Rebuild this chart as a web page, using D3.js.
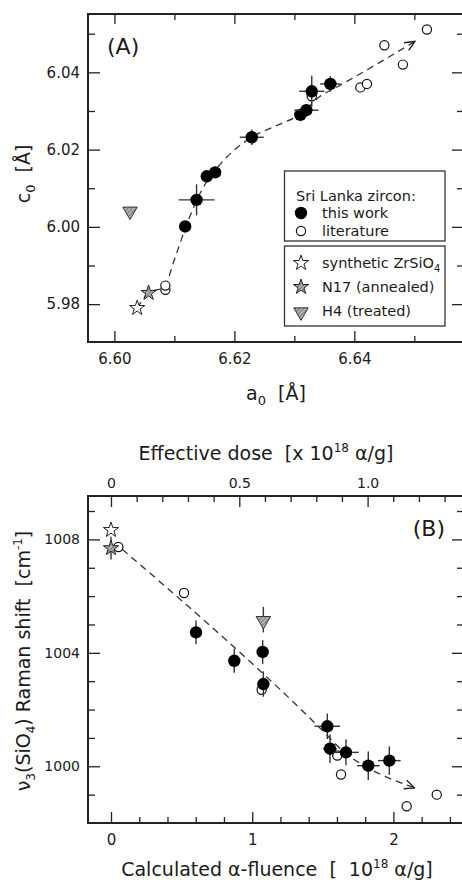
<!DOCTYPE html>
<html>
<head>
<meta charset="utf-8">
<script src="https://cdn.jsdelivr.net/npm/d3@7"></script>
<style>
body{margin:0;background:#fff}
svg{display:block}
text{font-family:"DejaVu Sans",Verdana,sans-serif;fill:#1a1a1a;white-space:pre}
</style>
</head>
<body>
<div id="chart"></div>
<script>
// ---- panel A : lattice parameters a0 / c0 ----
// [a0, c0, err a0, err c0]
const thisWorkA = [
  [6.6118,6.0001,0.0006,0.0013],[6.6137,6.0070,0.0030,0.0040],[6.6154,6.0131,0.0005,0.0010],
  [6.6168,6.0141,0.0008,0.0010],[6.6229,6.0232,0.0020,0.0020],[6.6310,6.0290,0.0010,0.0010],
  [6.6320,6.0302,0.0020,0.0015],[6.6329,6.0351,0.0021,0.0040],[6.6360,6.0370,0.0017,0.0020]
]
const literatureA = [
  [6.6521,6.0511],[6.6450,6.0470],[6.6481,6.0420],[6.6410,6.0361],[6.6421,6.0370],
  [6.6329,6.0338],[6.6085,5.9837],[6.6085,5.9848]
]
const syntheticA = [6.6038,5.9790]
const n17A = [6.6057,5.9829]
const h4A = [6.6026,6.0043]
const trendA = [
  [6.6038,5.9790],[6.6057,5.9829],[6.6083,5.9845],[6.6100,5.9915],[6.6118,5.9995],[6.6137,6.0068],
  [6.6155,6.0120],[6.6175,6.0160],[6.6200,6.0199],[6.6229,6.0232],[6.6270,6.0262],[6.6310,6.0292],
  [6.6343,6.0338],[6.6371,6.0362],[6.6501,6.0480]
]
const xTicksA = [6.60,6.62,6.64], xMinorA = [6.61,6.63,6.65]
const yTicksA = [5.98,6.00,6.02,6.04], yMinorA = [5.99,6.01,6.03,6.05]

// ---- panel B : Raman shift vs alpha-fluence ----
// [fluence, shift, err fluence, err shift]
const thisWorkB = [
  [0.602,1004.72,0.02,0.42],[0.873,1003.72,0.02,0.42],[1.074,1004.03,0.02,0.42],
  [1.079,1002.90,0.03,0.45],[1.532,1001.41,0.09,0.45],[1.551,1000.62,0.05,0.50],
  [1.664,1000.49,0.09,0.45],[1.822,1000.02,0.08,0.50],[1.971,1000.20,0.08,0.50]
]
const literatureB = [
  [0.052,1007.73],[0.517,1006.11],[1.067,1002.70],[1.603,1000.38],[1.629,999.71],[2.094,998.59],[2.307,999.00]
]
const syntheticB = [0,1008.33]
const n17B = [0,1007.69,0,0.40]
const h4B = [1.079,1005.17,0,0.45]
const trendB = [[0.08,1007.65],[1.50,1001.25],[1.65,1000.50],[1.80,1000.00],[2.15,999.24]]
const xTicksB = [0,1,2], xMinorB = [0.2,0.4,0.6,0.8,1.2,1.4,1.6,1.8,2.2,2.4]
const doseTicks = [0,0.5,1.0], doseLabels = ["0","0.5","1.0"], doseMinor = [0.1,0.2,0.3,0.4,0.6,0.7,0.8,0.9,1.1,1.2,1.3]
const yTicksB = [1000,1004,1008], yMinorB = [999,1001,1002,1003,1005,1006,1007,1009]

const legendTop = [["circle","this work"],["open","literature"]]
const legendBottom = [["star","synthetic ZrSiO"],["gstar","N17 (annealed)"],["tri","H4 (treated)"]]

const svg = d3.select("#chart").append("svg").attr("width",462).attr("height",883)
addDefs(svg)
drawPanelA()
drawPanelB()

function addDefs(svg){
  const defs = svg.append("defs")
  const p = defs.append("pattern").attr("id","hatch").attr("width",3).attr("height",3)
    .attr("patternUnits","userSpaceOnUse").attr("patternTransform","rotate(45)")
  p.append("rect").attr("width",3).attr("height",3).attr("fill","#b5b5b5")
  p.append("line").attr("x1",0).attr("y1",0).attr("x2",0).attr("y2",3).attr("stroke","#555").attr("stroke-width",1.4)
  defs.append("marker").attr("id","arrow").attr("viewBox","0 0 12 12").attr("refX",11).attr("refY",6)
    .attr("markerWidth",12).attr("markerHeight",12).attr("markerUnits","userSpaceOnUse").attr("orient","auto")
    .append("path").attr("d","M1,1.5 L11,6 L1,10.5").attr("fill","none").attr("stroke","#222").attr("stroke-width",1.4)
}

function frame(g,box){
  g.append("rect").attr("x",box.left).attr("y",box.top).attr("width",box.right-box.left).attr("height",box.bottom-box.top)
   .attr("fill","none").attr("stroke","#222").attr("stroke-width",2)
}

// inward ticks on one side; labels only when fmt given
function ticks(g,axis,pos,vals,len,pad,fmt,font){
  const a = axis.tickValues(vals).tickSize(-len).tickPadding(pad).tickFormat(fmt || "")
  const t = g.append("g").attr("transform",pos).call(a)
  t.select(".domain").remove()
  t.selectAll("line").attr("stroke","#222").attr("stroke-width",1.3)
  t.selectAll("text").attr("fill","#1a1a1a").attr("font-family",font.family).attr("font-size",font.size)
}

function marker(g,type,x,y){
  if(type === "circle") g.append("circle").attr("cx",x).attr("cy",y).attr("r",6.2).attr("fill","#000")
  if(type === "open") g.append("circle").attr("cx",x).attr("cy",y).attr("r",4.6).attr("fill","#fff").attr("stroke","#111").attr("stroke-width",1.2)
  if(type === "star" || type === "gstar")
    g.append("path").attr("d",d3.symbol(d3.symbolStar,72)()).attr("transform",`translate(${x},${y})`)
     .attr("fill",type === "star" ? "#fff" : "url(#hatch)").attr("stroke","#222").attr("stroke-width",1)
  if(type === "tri")
    g.append("path").attr("d",d3.symbol(d3.symbolTriangle,90)()).attr("transform",`translate(${x},${y+1}) rotate(180)`)
     .attr("fill","url(#hatch)").attr("stroke","#333").attr("stroke-width",1)
}

function errBars(g,x,y,d){
  const c = "#333"
  if(d[3]) g.append("line").attr("x1",x(d[0])).attr("x2",x(d[0])).attr("y1",y(d[1]-d[3])).attr("y2",y(d[1]+d[3])).attr("stroke",c).attr("stroke-width",1.4)
  if(d[2]) g.append("line").attr("y1",y(d[1])).attr("y2",y(d[1])).attr("x1",x(d[0]-d[2])).attr("x2",x(d[0]+d[2])).attr("stroke",c).attr("stroke-width",1.4)
}

function trend(g,x,y,pts){
  const line = d3.line().x(d => x(d[0])).y(d => y(d[1])).curve(d3.curveMonotoneX)
  g.append("path").datum(pts).attr("d",line).attr("fill","none").attr("stroke","#333")
   .attr("stroke-width",1.3).attr("stroke-dasharray","7 5").attr("marker-end","url(#arrow)")
}

function drawPanelA(){
  const box = {left:88,right:464,top:14,bottom:342}
  const x = d3.scaleLinear().domain([6.5956,6.65828]).range([box.left,box.right])
  const y = d3.scaleLinear().domain([5.9702,6.0551]).range([box.bottom,box.top])
  const g = svg.append("g")
  const sans = {family:"DejaVu Sans",size:"15px"}
  const f2 = d3.format(".2f")

  ticks(g,d3.axisBottom(x),`translate(0,${box.bottom})`,xTicksA,11,11,f2,sans)
  ticks(g,d3.axisBottom(x),`translate(0,${box.bottom})`,xMinorA,6,0,null,sans)
  ticks(g,d3.axisTop(x),`translate(0,${box.top})`,xTicksA,10,0,null,sans)
  ticks(g,d3.axisTop(x),`translate(0,${box.top})`,xMinorA,6,0,null,sans)
  ticks(g,d3.axisLeft(y),`translate(${box.left},0)`,yTicksA,12,8,f2,sans)
  ticks(g,d3.axisLeft(y),`translate(${box.left},0)`,yMinorA,7,0,null,sans)
  ticks(g,d3.axisRight(y),`translate(${box.right},0)`,yTicksA,12,0,null,sans)
  ticks(g,d3.axisRight(y),`translate(${box.right},0)`,yMinorA,7,0,null,sans)
  frame(g,box)

  trend(g,x,y,trendA)
  literatureA.forEach(d => marker(g,"open",x(d[0]),y(d[1])))
  thisWorkA.forEach(d => { errBars(g,x,y,d); marker(g,"circle",x(d[0]),y(d[1])) })
  marker(g,"tri",x(h4A[0]),y(h4A[1]))
  marker(g,"star",x(syntheticA[0]),y(syntheticA[1]))
  marker(g,"gstar",x(n17A[0]),y(n17A[1]))

  g.append("text").attr("x",107).attr("y",54).attr("font-size","22px").text("(A)")

  // axis titles
  const xt = g.append("text").attr("x",276).attr("y",400).attr("text-anchor","middle").attr("font-size","19px")
  xt.append("tspan").text("a")
  xt.append("tspan").attr("font-size","13px").attr("dy",5).text("0")
  xt.append("tspan").attr("dy",-5).text("  [Å]")
  const yt = g.append("text").attr("transform","translate(30,174) rotate(-90)").attr("text-anchor","middle").attr("font-size","19px")
  yt.append("tspan").text("c")
  yt.append("tspan").attr("font-size","13px").attr("dy",5).text("0")
  yt.append("tspan").attr("dy",-5).text("  [Å]")

  // legend
  const lg = g.append("g")
  lg.append("rect").attr("x",284.5).attr("y",171).attr("width",160.5).attr("height",70).attr("fill","#fff").attr("stroke","#333").attr("stroke-width",1.3)
  lg.append("rect").attr("x",284.5).attr("y",246).attr("width",160.5).attr("height",80).attr("fill","#fff").attr("stroke","#333").attr("stroke-width",1.3)
  lg.append("text").attr("x",296).attr("y",201).attr("font-size","14.5px").text("Sri Lanka zircon:")
  legendTop.forEach((d,i) => {
    const ty = 218 + i*18
    marker(lg,d[0],301,ty-5)
    lg.append("text").attr("x",322).attr("y",ty).attr("font-size","14.5px").text(d[1])
  })
  legendBottom.forEach((d,i) => {
    const ty = 268 + i*24
    marker(lg,d[0],301,ty-5)
    const t = lg.append("text").attr("x",322).attr("y",ty).attr("font-size","14.5px").text(d[1])
    if(i === 0) t.append("tspan").attr("font-size","10px").attr("dy",4).text("4")
  })
}

function drawPanelB(){
  const box = {left:88,right:464,top:496,bottom:823}
  const x = d3.scaleLinear().domain([-0.163,2.5]).range([box.left,box.right])
  const xd = d3.scaleLinear().domain([-0.0896,1.3757]).range([box.left,box.right])
  const y = d3.scaleLinear().domain([998.0,1009.53]).range([box.bottom,box.top])
  const g = svg.append("g")
  const sans = {family:"DejaVu Sans",size:"15px"}
  const serif = {family:"DejaVu Serif",size:"14px"}

  ticks(g,d3.axisBottom(x),`translate(0,${box.bottom})`,xTicksB,11,11,d3.format("d"),sans)
  ticks(g,d3.axisBottom(x),`translate(0,${box.bottom})`,xMinorB,6,0,null,sans)
  ticks(g,d3.axisTop(xd),`translate(0,${box.top})`,doseTicks,11,8,(d,i) => doseLabels[i],serif)
  ticks(g,d3.axisTop(xd),`translate(0,${box.top})`,doseMinor,6,0,null,serif)
  ticks(g,d3.axisLeft(y),`translate(${box.left},0)`,yTicksB,12,8,d3.format("d"),serif)
  ticks(g,d3.axisLeft(y),`translate(${box.left},0)`,yMinorB,7,0,null,serif)
  ticks(g,d3.axisRight(y),`translate(${box.right},0)`,yTicksB,12,0,null,serif)
  ticks(g,d3.axisRight(y),`translate(${box.right},0)`,yMinorB,7,0,null,serif)
  frame(g,box)

  trend(g,x,y,trendB)
  literatureB.forEach(d => marker(g,"open",x(d[0]),y(d[1])))
  thisWorkB.forEach(d => { errBars(g,x,y,d); marker(g,"circle",x(d[0]),y(d[1])) })
  errBars(g,x,y,h4B); marker(g,"tri",x(h4B[0]),y(h4B[1]))
  marker(g,"star",x(syntheticB[0]),y(syntheticB[1]))
  errBars(g,x,y,n17B); marker(g,"gstar",x(n17B[0]),y(n17B[1]))

  g.append("text").attr("x",445).attr("y",536).attr("text-anchor","end").attr("font-size","22px").text("(B)")

  const top = g.append("text").attr("x",266).attr("y",460).attr("text-anchor","middle").attr("font-size","19px")
  top.append("tspan").text("Effective dose  [x 10")
  top.append("tspan").attr("font-size","12px").attr("dy",-8).text("18")
  top.append("tspan").attr("dy",8).text(" α/g]")

  const bot = g.append("text").attr("x",277).attr("y",876).attr("text-anchor","middle").attr("font-size","19px")
  bot.append("tspan").text("Calculated α-fluence  [  10")
  bot.append("tspan").attr("font-size","12px").attr("dy",-8).text("18")
  bot.append("tspan").attr("dy",8).text(" α/g]")

  const yt = g.append("text").attr("transform","translate(30,661) rotate(-90)").attr("text-anchor","middle").attr("font-size","19px")
  yt.append("tspan").text("ν")
  yt.append("tspan").attr("font-size","12px").attr("dy",5).text("3")
  yt.append("tspan").attr("dy",-5).text("(SiO")
  yt.append("tspan").attr("font-size","12px").attr("dy",5).text("4")
  yt.append("tspan").attr("dy",-5).text(") Raman shift  [cm")
  yt.append("tspan").attr("font-size","12px").attr("dy",-8).text("-1")
  yt.append("tspan").attr("dy",8).text("]")
}
</script>
</body>
</html>
